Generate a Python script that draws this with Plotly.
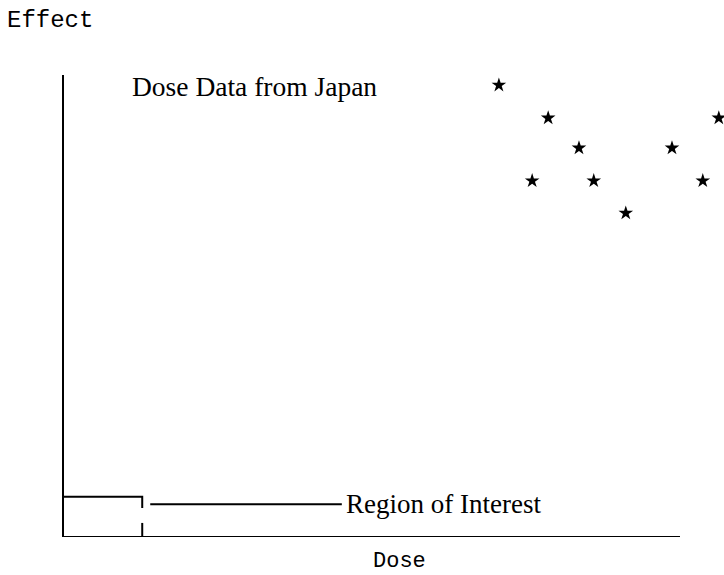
import plotly.graph_objects as go

# Data (dose, effect), arbitrary units 0-10
dose = [7.06, 7.86, 10.63, 8.36, 9.87, 7.60, 8.60, 10.37, 9.12]
effect = [9.78, 9.07, 9.07, 8.42, 8.42, 7.71, 7.71, 7.71, 7.01]

# Region of interest (low-dose, low-effect corner)
roi_x = [0.0, 1.27]
roi_y = [0.0, 0.87]

# Extent of the drawn dose axis
dose_axis_end = 10.0

x_label = "Dose"
y_label = "Effect"
data_label = "Dose Data from Japan"
roi_label = "Region of Interest"

fig = go.Figure()
fig.add_trace(go.Scatter(
    x=dose, y=effect, mode="markers", cliponaxis=False,
    marker=dict(symbol="star", size=11, color="black", line=dict(width=0)),
    showlegend=False, hoverinfo="skip",
))

line = dict(color="black", width=2)
x0, x1 = roi_x
y0, y1 = roi_y
# dose axis line (shorter than the plotting area)
fig.add_shape(type="line", xref="x", yref="y",
              x0=0, x1=dose_axis_end, y0=0, y1=0, line=line)
# top bracket of the region box
fig.add_shape(type="path", xref="x", yref="y",
              path=f"M {x0},{y1} L {x1},{y1} L {x1},{y1*0.72}", line=line)
# bottom bracket of the region box
fig.add_shape(type="line", xref="x", yref="y",
              x0=x1, x1=x1, y0=y0, y1=y1*0.35, line=line)
# leader line to the label
fig.add_shape(type="line", xref="x", yref="y",
              x0=1.40, x1=4.51, y0=0.71, y1=0.71, line=line)

fig.add_annotation(x=4.55, y=0.71, xref="x", yref="y", text=roi_label,
                   showarrow=False, xanchor="left", yanchor="middle",
                   font=dict(family="Liberation Serif", size=27, color="black"))
fig.add_annotation(x=1.07, y=9.76, xref="x", yref="y", text=data_label,
                   showarrow=False, xanchor="left", yanchor="middle",
                   font=dict(family="Liberation Serif", size=27.5, color="black"))
fig.add_annotation(x=-0.089, y=1.119, xref="paper", yref="paper", text=y_label,
                   showarrow=False, xanchor="left", yanchor="middle",
                   font=dict(family="Liberation Mono", size=24, color="black"))
fig.add_annotation(x=0.509, y=-0.054, xref="paper", yref="paper", text=x_label,
                   showarrow=False, xanchor="center", yanchor="middle",
                   font=dict(family="Liberation Mono", size=22, color="black"))

axis_common = dict(showgrid=False, zeroline=False, showticklabels=False, ticks="",
                   fixedrange=True)
fig.update_xaxes(**axis_common, showline=False, range=[0, 660 / 61.6])
fig.update_yaxes(**axis_common, showline=True, linecolor="black", linewidth=2,
                 range=[0, 10])

fig.update_layout(
    width=724, height=575,
    margin=dict(l=64, r=0, t=75, b=38),
    paper_bgcolor="white", plot_bgcolor="white",
)

fig.write_html("out.html", config={"displayModeBar": False},
               post_script="document.body.style.margin='0';document.body.style.overflow='hidden';")
